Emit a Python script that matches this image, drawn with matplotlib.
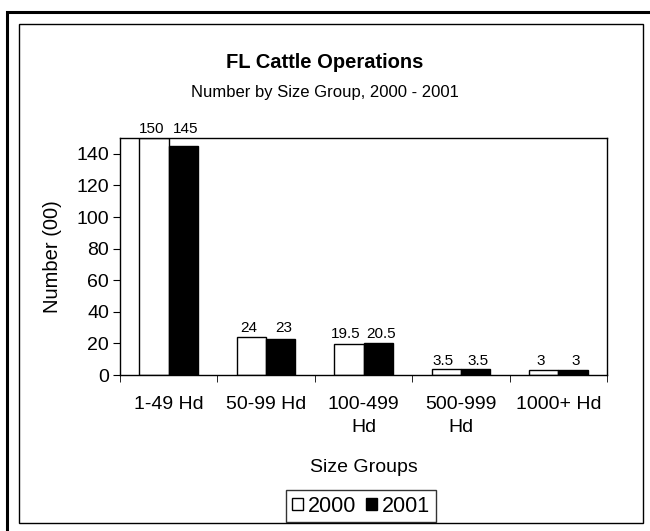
import matplotlib.pyplot as plt
import numpy as np
from matplotlib.patches import Rectangle

plt.rcParams['font.family'] = ['Liberation Sans', 'DejaVu Sans']

# Data
groups = ["1-49 Hd", "50-99 Hd", "100-499\nHd", "500-999\nHd", "1000+ Hd"]
values_2000 = [150, 24, 19.5, 3.5, 3]
values_2001 = [145, 23, 20.5, 3.5, 3]
label_2000 = ["150", "24", "19.5", "3.5", "3"]
label_2001 = ["145", "23", "20.5", "3.5", "3"]

fig = plt.figure(figsize=(6.5, 5.31), dpi=100)

# Outer thick frame and inner thin frame
fig.patches.append(Rectangle((7 / 650, -0.1), 1.2, 1 - 12 / 531 + 0.1, transform=fig.transFigure,
                             fill=False, edgecolor="black", linewidth=2.2))
fig.patches.append(Rectangle((19 / 650, 1 - 523 / 531), 624 / 650, 499 / 531, transform=fig.transFigure,
                             fill=False, edgecolor="black", linewidth=1.0))

ax = fig.add_axes([120 / 650, 1 - 375 / 531, 487 / 650, 237 / 531])

x = np.arange(len(groups))
w = 0.3
b1 = ax.bar(x - w / 2, values_2000, w, color="white", edgecolor="black", linewidth=1.0, label="2000")
b2 = ax.bar(x + w / 2, values_2001, w, color="black", edgecolor="black", linewidth=1.0, label="2001")

# value labels: both labels of a group sit at the same height, above the taller bar
for i in range(len(groups)):
    top = max(values_2000[i], values_2001[i])
    for rect, txt, dx in [(b1[i], label_2000[i], -2), (b2[i], label_2001[i], 2)]:
        ax.annotate(txt, (rect.get_x() + rect.get_width() / 2, top),
                    xytext=(dx, 3.5), textcoords="offset points",
                    ha="center", va="baseline", fontsize=11, annotation_clip=False)

ax.set_xlim(-0.5, len(groups) - 0.5)
ax.set_ylim(0, 150)
ax.set_yticks(np.arange(0, 141, 20))
ax.set_xticks(x)
ax.set_xticklabels(groups, fontsize=14, linespacing=1.45)
ax.tick_params(axis="x", which="major", length=0, pad=15)
ax.set_xticks(np.arange(-0.5, len(groups) - 0.4, 1), minor=True)
ax.tick_params(axis="x", which="minor", length=5, direction="out")
ax.tick_params(axis="y", labelsize=14, length=5, direction="out", pad=3)
for s in ax.spines.values():
    s.set_linewidth(1.0)

ax.set_ylabel("Number (00)", fontsize=14.5, ha="center", va="center")
ax.yaxis.set_label_coords((52 - 120) / 487, 0.5)
ax.set_xlabel("Size Groups", fontsize=14, va="center")
ax.xaxis.set_label_coords(0.5, (375 - 467) / 237)

fig.text(0.5, 1 - 63 / 531, "FL Cattle Operations", ha="center", va="center",
         fontsize=14.5, fontweight="bold")
fig.text(0.5, 1 - 93 / 531, "Number by Size Group, 2000 - 2001", ha="center", va="center",
         fontsize=12)

leg = fig.legend(handles=[b1, b2], labels=["2000", "2001"], loc="center",
                 bbox_to_anchor=(361 / 650, 1 - 506 / 531), ncol=2, fontsize=15.5,
                 frameon=True, fancybox=False, edgecolor="black", handlelength=0.5,
                 handleheight=0.5, handletextpad=0.25, columnspacing=0.45,
                 borderpad=0.25, borderaxespad=0)
leg.get_frame().set_linewidth(1.0)

fig.savefig("out.png", dpi=100)
